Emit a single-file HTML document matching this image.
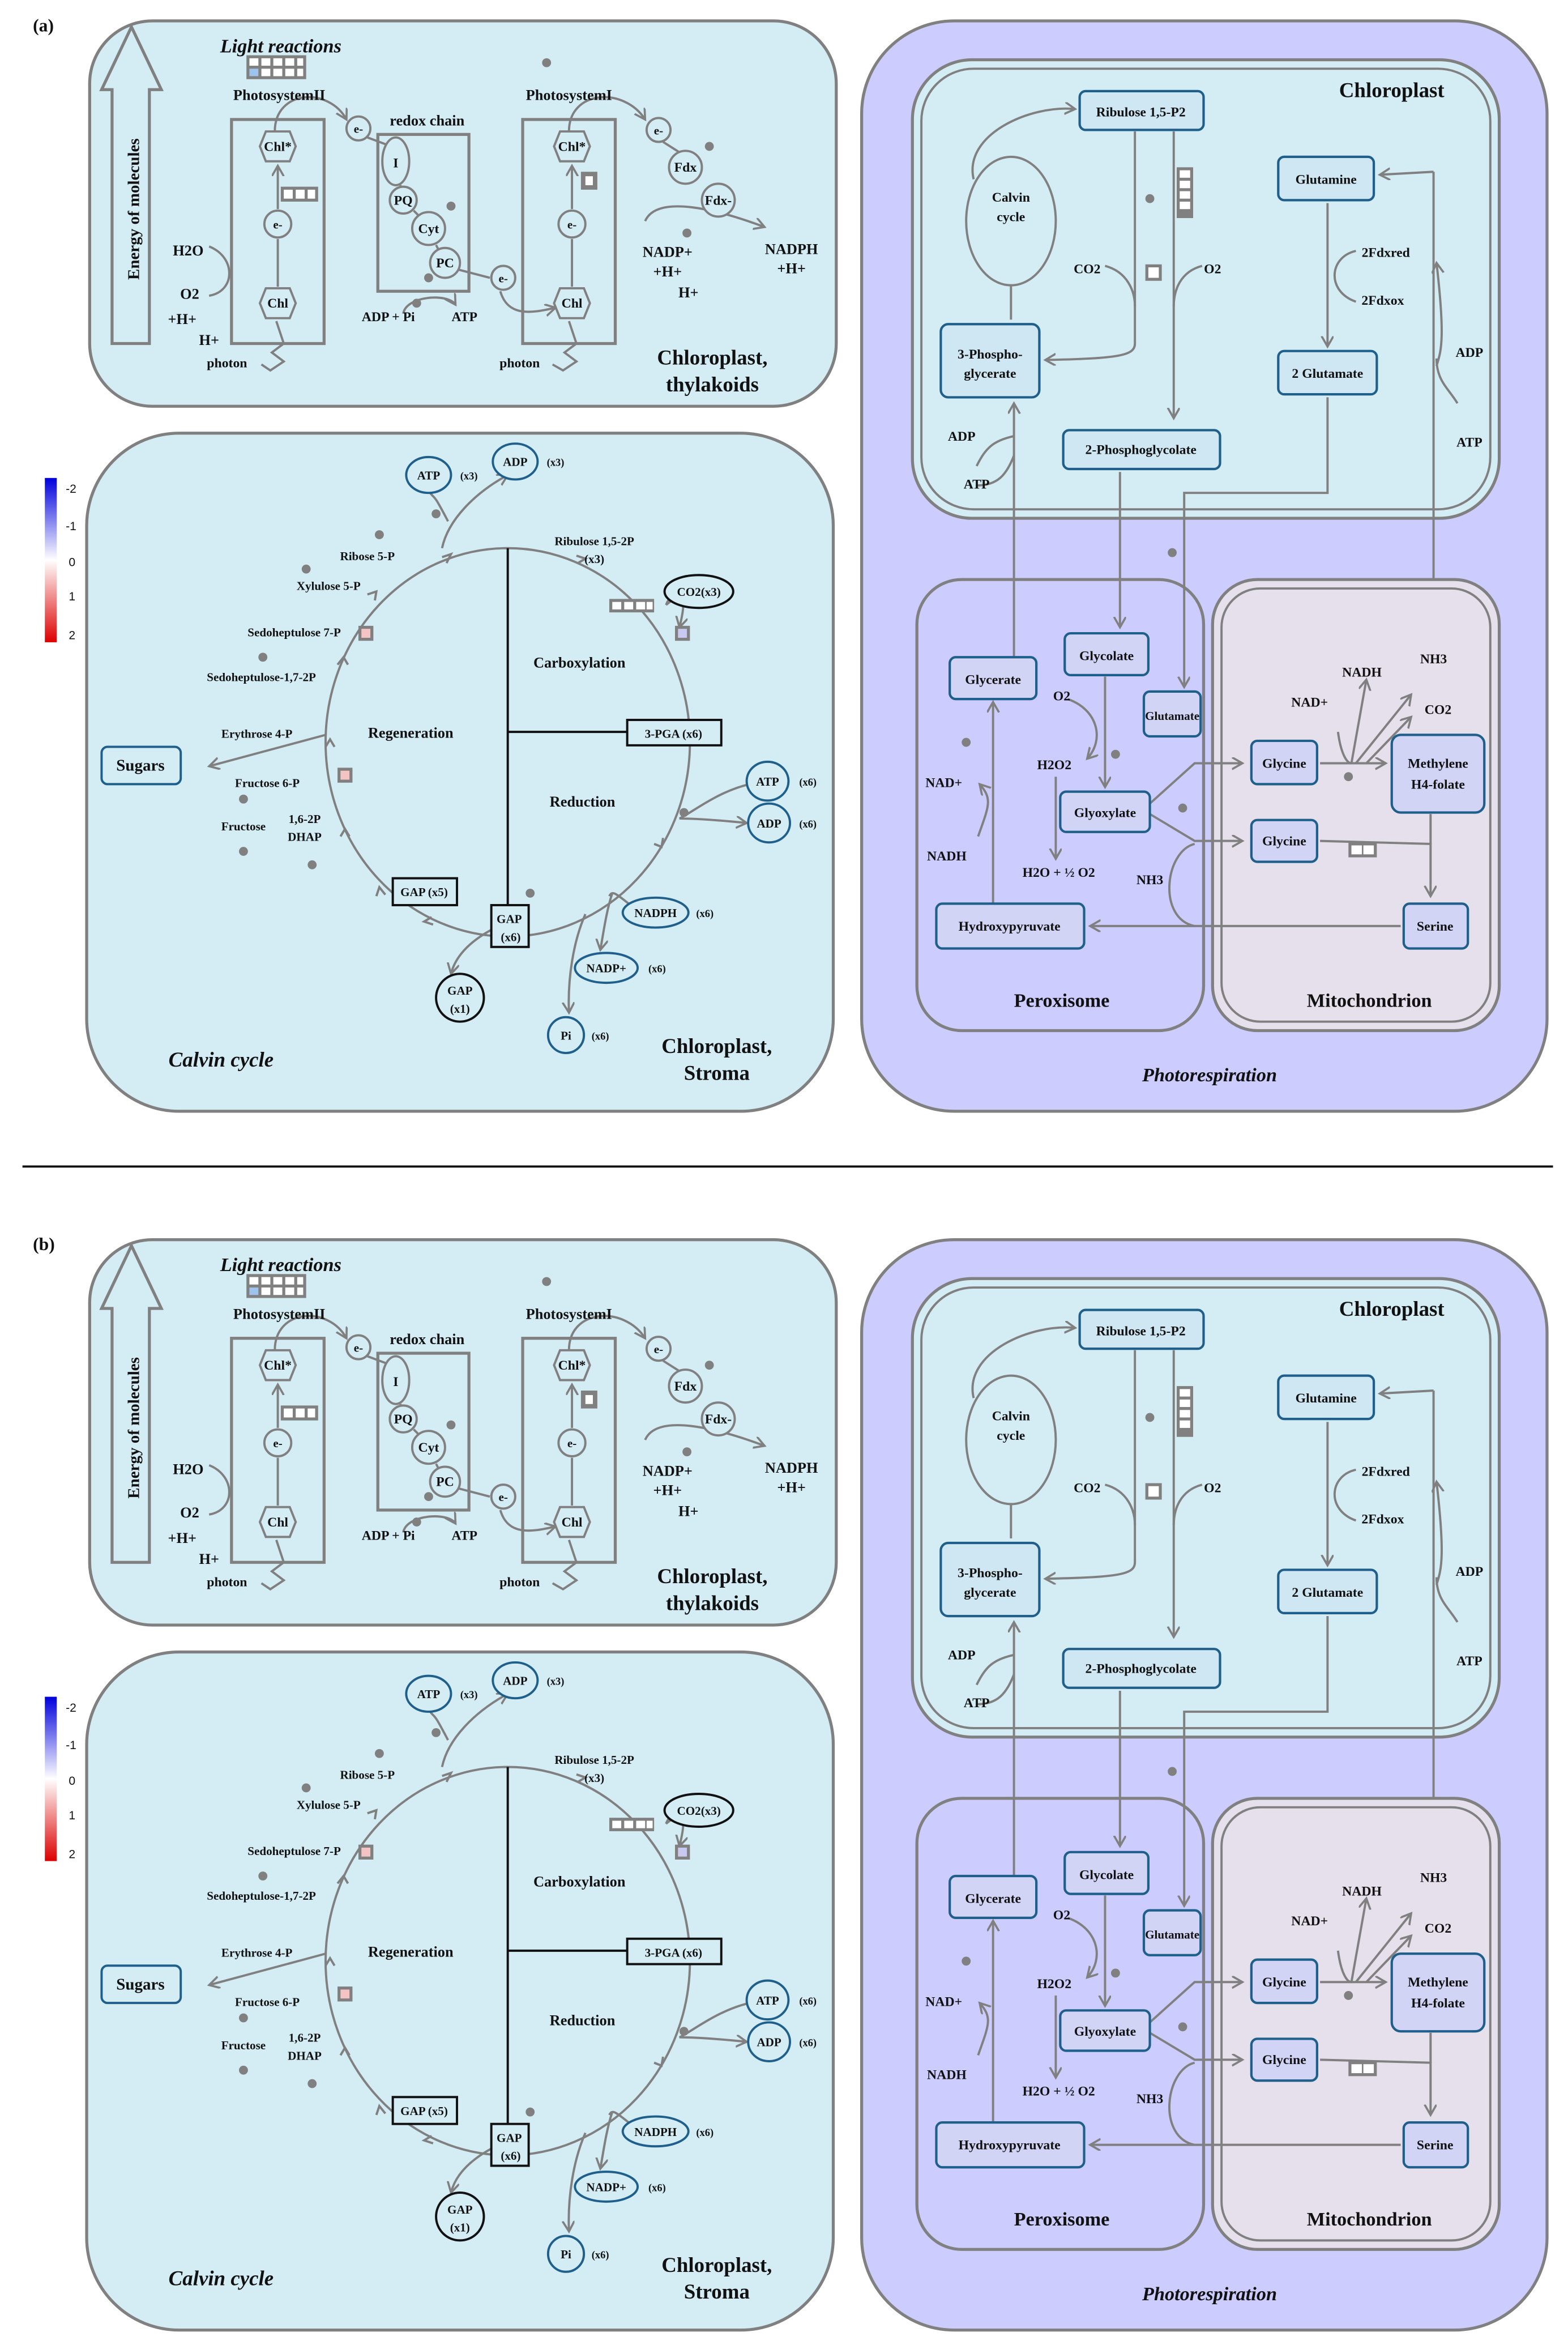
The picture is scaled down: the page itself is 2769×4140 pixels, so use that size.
<!DOCTYPE html>
<html><head><meta charset="utf-8"><style>
html,body{margin:0;padding:0;background:#fff}
svg{display:block}
text{font-family:"Liberation Serif",serif;font-weight:bold;fill:#111}
</style></head><body>
<svg xmlns="http://www.w3.org/2000/svg" xmlns:xlink="http://www.w3.org/1999/xlink" width="2769" height="4140" viewBox="0 0 1050 1570">
<defs>
<marker id="ar" markerWidth="10" markerHeight="10" refX="7" refY="4" orient="auto" markerUnits="userSpaceOnUse">
<path d="M0,0 L7,4 L0,8" fill="none" stroke="#808080" stroke-width="1.4"/>
</marker>
<linearGradient id="cb" x1="0" y1="0" x2="0" y2="1"><stop offset="0" stop-color="#0000dd"/><stop offset="0.5" stop-color="#fff"/><stop offset="1" stop-color="#dd0000"/></linearGradient>
<g id="P">
<rect x="60" y="14" width="500" height="258" rx="42" fill="#d4ecf4" stroke="#808080" stroke-width="2"/>
<rect x="58" y="290" width="500" height="454" rx="62" fill="#d4ecf4" stroke="#808080" stroke-width="2"/>
<rect x="577" y="14" width="459" height="730" rx="62" fill="#ccccff" stroke="#808080" stroke-width="2"/>
<rect x="611" y="40" width="393" height="307" rx="40" fill="#d4ecf4" stroke="#808080" stroke-width="2"/>
<rect x="617" y="46" width="381" height="295" rx="35" fill="none" stroke="#808080" stroke-width="1.5"/>
<rect x="614" y="388" width="192" height="302" rx="30" fill="#ccccff" stroke="#808080" stroke-width="2"/>
<rect x="812" y="388" width="192" height="302" rx="30" fill="#e6e0ec" stroke="#808080" stroke-width="2"/>
<rect x="818" y="394" width="180" height="290" rx="26" fill="none" stroke="#808080" stroke-width="1.5"/>

<g fill="none" stroke="#808080" stroke-width="1.5">
<path d="M75,230 L75,60 L68,60 L88,18 L108,60 L100,60 L100,230 Z" stroke-width="2"/>
<rect x="155" y="80" width="62" height="150" stroke-width="2"/>
<rect x="253" y="90" width="61" height="105" stroke-width="2"/>
<rect x="350" y="80" width="62" height="150" stroke-width="2"/>
<line x1="186" y1="192" x2="186" y2="160"/><line x1="186" y1="140" x2="186" y2="111" marker-end="url(#ar)"/>
<line x1="383" y1="192" x2="383" y2="160"/><line x1="383" y1="140" x2="383" y2="111" marker-end="url(#ar)"/>
<path d="M184,88 C184,60 220,58 232,80" marker-end="url(#ar)"/>
<path d="M381,88 C381,60 418,58 432,80" marker-end="url(#ar)"/>
<line x1="246" y1="92" x2="262" y2="98"/><line x1="268" y1="124" x2="269" y2="126"/>
<line x1="277" y1="141" x2="281" y2="145"/><line x1="292" y1="164" x2="294" y2="168"/>
<line x1="305" y1="180" x2="328" y2="186"/>
<path d="M335,195 C340,212 355,210 372,206" marker-end="url(#ar)"/>
<line x1="444" y1="95" x2="455" y2="102"/>
<path d="M432,148 C440,130 480,140 512,152" marker-end="url(#ar)"/>
<path d="M140,165 C158,172 158,195 140,198"/>
<path d="M185,215 L190,230 L182,236 L190,242 L181,248 L175,244"/>
<path d="M381,215 L386,230 L378,236 L386,242 L377,248 L370,244"/>
<path d="M270,210 C272,198 300,196 305,204" marker-end="url(#ar)"/>
<!-- Calvin cycle -->
<ellipse cx="340" cy="497" rx="122" ry="130"/>
<path d="M246,398 l6,-2 l-1,6 M226,445 l4,-5 l3,5 M218,500 l3,-5 l3,5 M228,560 l3,-5 l3,5 M252,600 l2,-6 l4,5 M296,373 l6,-2 l-3,6 M386,372 l6,2 l-5,3 M444,561 l-1,6 l-5,-2 M290,619 l-6,-2 l5,-3"/>
<path d="M300,349 C290,330 292,335 288,330"/>
<path d="M296,367 C300,348 318,330 340,318" marker-end="url(#ar)"/>
<path d="M218,492 L140,513" marker-end="url(#ar)"/>
<path d="M446,405 C458,395 460,400 455,420" marker-end="url(#ar)"/>
<path d="M446,405 C450,395 460,390 468,386"/>
<path d="M502,525 C480,530 462,545 455,548 C470,548 490,550 500,551" marker-end="url(#ar)"/>
<path d="M330,622 C315,630 305,640 302,652" marker-end="url(#ar)"/>
<path d="M421,605 C412,598 410,596 408,600"/>
<path d="M410,598 C406,610 404,625 402,636" marker-end="url(#ar)"/>
<path d="M392,612 C384,630 380,655 381,678" marker-end="url(#ar)"/>
<!-- photorespiration -->
<ellipse cx="677" cy="148" rx="30" ry="43"/>
<path d="M652,120 C645,90 690,70 720,73" marker-end="url(#ar)"/>
<line x1="677" y1="191" x2="677" y2="214"/>
<path d="M760,88 L760,230 C760,238 750,240 700,241" marker-end="url(#ar)"/>
<line x1="786" y1="88" x2="786" y2="280" marker-end="url(#ar)"/>
<path d="M740,178 C755,182 760,195 760,205"/>
<path d="M805,178 C790,182 786,195 786,205"/>
<line x1="679" y1="440" x2="679" y2="270" marker-end="url(#ar)"/>
<path d="M654,312 C660,300 665,295 679,292"/>
<path d="M654,325 C668,325 674,318 679,305"/>
<line x1="750" y1="316" x2="750" y2="420" marker-end="url(#ar)"/>
<line x1="889" y1="136" x2="889" y2="232" marker-end="url(#ar)"/>
<path d="M908,168 C890,172 888,195 908,202"/>
<path d="M889,266 L889,330 L793,330 L793,460" marker-end="url(#ar)"/>
<path d="M960,388 L960,115" />
<path d="M960,115 L924,117" marker-end="url(#ar)"/>
<path d="M976,270 C970,260 962,255 962,240" />
<path d="M962,245 C965,235 968,228 962,176" marker-end="url(#ar)"/>
<line x1="740" y1="453" x2="740" y2="527" marker-end="url(#ar)"/>
<path d="M715,468 C735,475 740,495 728,508" marker-end="url(#ar)"/>
<line x1="707" y1="520" x2="707" y2="575" marker-end="url(#ar)"/>
<line x1="665" y1="605" x2="665" y2="470" marker-end="url(#ar)"/>
<path d="M655,560 C662,540 665,535 656,525" marker-end="url(#ar)"/>
<path d="M770,538 L800,511 L832,511" marker-end="url(#ar)"/>
<path d="M770,545 L800,563 L832,563" marker-end="url(#ar)"/>
<path d="M884,511 L928,511" marker-end="url(#ar)"/>
<path d="M905,511 L915,455" marker-end="url(#ar)"/>
<path d="M908,511 L945,465" marker-end="url(#ar)"/>
<path d="M915,511 L945,480" marker-end="url(#ar)"/>
<path d="M896,490 C898,505 902,511 905,511"/>
<path d="M884,563 L958,565 L958,600" marker-end="url(#ar)"/>
<path d="M958,545 L958,565"/>
<path d="M938,620 L730,620" marker-end="url(#ar)"/>
<path d="M800,620 C775,615 780,570 800,565"/>
</g>

<g fill="#d4ecf4" stroke="#808080" stroke-width="1.5">
<polygon points="174,98 178,88 194,88 198,98 194,108 178,108"/>
<polygon points="174,203 178,193 194,193 198,203 194,213 178,213"/>
<polygon points="371,98 375,88 391,88 395,98 391,108 375,108"/>
<polygon points="371,203 375,193 391,193 395,203 391,213 375,213"/>
<circle cx="186" cy="150" r="9"/><circle cx="383" cy="150" r="9"/>
<circle cx="240" cy="86" r="8"/><circle cx="441" cy="87" r="8"/><circle cx="337" cy="186" r="8"/>
<ellipse cx="265" cy="108" rx="9" ry="16"/>
<circle cx="270" cy="134" r="9"/><circle cx="287" cy="153" r="11"/><circle cx="298" cy="176" r="10"/>
<circle cx="459" cy="112" r="11"/><circle cx="481" cy="134" r="11"/>
</g>
<g fill="#808080">
<rect x="165" y="37" width="40" height="16"/>
<rect x="188" y="125" width="25" height="10"/>
<rect x="389" y="115" width="11" height="12"/>
<circle cx="366" cy="42" r="3"/><circle cx="475" cy="98" r="3"/><circle cx="302" cy="138" r="3"/>
<circle cx="287" cy="186" r="3"/><circle cx="279" cy="203" r="3"/><circle cx="460" cy="156" r="3"/>
</g>
<g fill="#fff">
<rect x="167" y="39" width="6" height="5"/><rect x="175" y="39" width="6" height="5"/><rect x="183" y="39" width="6" height="5"/><rect x="191" y="39" width="6" height="5"/><rect x="199" y="39" width="4" height="5"/>
<rect x="167" y="46" width="6" height="5" fill="#9ec4ee"/><rect x="175" y="46" width="6" height="5"/><rect x="183" y="46" width="6" height="5"/><rect x="191" y="46" width="6" height="5"/><rect x="199" y="46" width="4" height="5"/>
<rect x="190" y="127" width="6" height="6"/><rect x="198" y="127" width="6" height="6"/><rect x="206" y="127" width="5" height="6"/>
<rect x="392" y="118" width="5" height="6"/>
</g>
<g font-size="9" text-anchor="middle">
<text x="188" y="35" font-size="13" font-style="italic">Light reactions</text>
<text x="187" y="67" font-size="10">PhotosystemII</text>
<text x="381" y="67" font-size="10">PhotosystemI</text>
<text x="286" y="84" font-size="10">redox chain</text>
<text x="186" y="101">Chl*</text><text x="186" y="206">Chl</text>
<text x="383" y="101">Chl*</text><text x="383" y="206">Chl</text>
<text x="186" y="153" font-size="8">e-</text><text x="383" y="153" font-size="8">e-</text>
<text x="240" y="89" font-size="8">e-</text><text x="441" y="90" font-size="8">e-</text><text x="337" y="189" font-size="8">e-</text>
<text x="265" y="112">I</text><text x="270" y="137">PQ</text><text x="287" y="156">Cyt</text><text x="298" y="179">PC</text>
<text x="459" y="115">Fdx</text><text x="481" y="137">Fdx-</text>
<text x="447" y="172" font-size="10">NADP+</text><text x="447" y="185" font-size="10">+H+</text><text x="461" y="199" font-size="10">H+</text>
<text x="530" y="170" font-size="10">NADPH</text><text x="530" y="183" font-size="10">+H+</text>
<text x="126" y="171" font-size="10">H2O</text><text x="127" y="200" font-size="10">O2</text>
<text x="122" y="217" font-size="10">+H+</text><text x="140" y="231" font-size="10">H+</text>
<text x="152" y="246">photon</text><text x="348" y="246">photon</text>
<text x="260" y="215">ADP + Pi</text><text x="311" y="215">ATP</text>
<text x="477" y="244" font-size="14">Chloroplast,</text><text x="477" y="262" font-size="14">thylakoids</text>
<text x="0" y="0" font-size="11" font-weight="normal" font-family="Liberation Mono, monospace" transform="translate(93,140) rotate(-90)">Energy of molecules</text>
</g>

<rect x="30" y="320" width="8" height="110" fill="url(#cb)"/>
<g font-size="8">
<text x="44" y="330" style="font-family:'Liberation Sans';font-weight:normal">-2</text><text x="44" y="355" style="font-family:'Liberation Sans';font-weight:normal">-1</text><text x="46" y="379" style="font-family:'Liberation Sans';font-weight:normal">0</text><text x="46" y="402" style="font-family:'Liberation Sans';font-weight:normal">1</text><text x="46" y="428" style="font-family:'Liberation Sans';font-weight:normal">2</text>
</g>

<g stroke="#111" stroke-width="1.5">
<line x1="340" y1="367" x2="340" y2="606"/>
<line x1="340" y1="490" x2="420" y2="490"/>
</g>
<g fill="#d4ecf4" stroke="#1f5f8b" stroke-width="1.5">
<ellipse cx="287" cy="318" rx="15" ry="12"/><ellipse cx="345" cy="309" rx="15" ry="12"/>
<ellipse cx="514" cy="523" rx="14" ry="13"/><ellipse cx="515" cy="551" rx="14" ry="13"/>
<ellipse cx="439" cy="611" rx="22" ry="10"/><ellipse cx="406" cy="648" rx="21" ry="10"/>
<circle cx="379" cy="693" r="12"/>
<rect x="68" y="500" width="53" height="25" rx="4"/>
</g>
<g fill="#d4ecf4" stroke="#111" stroke-width="1.5">
<ellipse cx="468" cy="396" rx="23" ry="11"/>
<circle cx="308" cy="668" r="16"/>
<rect x="420" y="482" width="63" height="17"/>
<rect x="263" y="588" width="43" height="18"/>
<rect x="329" y="606" width="25" height="28"/>
</g>
<g fill="#808080">
<rect x="408" y="401" width="30" height="9"/>
<rect x="452" y="419" width="10" height="10"/>
<rect x="240" y="419" width="10" height="10"/>
<rect x="226" y="514" width="10" height="10"/>
<circle cx="254" cy="358" r="3"/><circle cx="205" cy="381" r="3"/><circle cx="176" cy="440" r="3"/>
<circle cx="292" cy="344" r="3"/><circle cx="456" cy="423" r="3"/><circle cx="458" cy="544" r="3"/>
<circle cx="163" cy="570" r="3"/><circle cx="163" cy="535" r="3"/><circle cx="209" cy="579" r="3"/><circle cx="355" cy="598" r="3"/>
</g>
<g fill="#fff">
<rect x="410" y="403" width="6" height="5"/><rect x="418" y="403" width="6" height="5"/><rect x="426" y="403" width="6" height="5"/><rect x="433" y="403" width="4" height="5"/>
<rect x="454" y="421" width="6" height="6" fill="#c8c8f0"/>
<rect x="242" y="421" width="6" height="6" fill="#f4c4c4"/>
<rect x="228" y="516" width="6" height="6" fill="#f4c4c4"/>
</g>
<g font-size="8" text-anchor="middle">
<text x="287" y="321">ATP</text><text x="314" y="321" font-size="7">(x3)</text>
<text x="345" y="312">ADP</text><text x="372" y="312" font-size="7">(x3)</text>
<text x="398" y="365">Ribulose 1,5-2P</text><text x="398" y="377">(x3)</text>
<text x="468" y="399">CO2(x3)</text>
<text x="246" y="375">Ribose 5-P</text><text x="220" y="395">Xylulose 5-P</text>
<text x="197" y="426">Sedoheptulose 7-P</text><text x="175" y="456">Sedoheptulose-1,7-2P</text>
<text x="172" y="494">Erythrose 4-P</text><text x="179" y="527">Fructose 6-P</text>
<text x="163" y="556">Fructose</text><text x="204" y="551">1,6-2P</text><text x="204" y="563">DHAP</text>
<text x="94" y="516" font-size="11">Sugars</text>
<text x="388" y="447" font-size="10">Carboxylation</text>
<text x="275" y="494" font-size="10">Regeneration</text>
<text x="390" y="540" font-size="10">Reduction</text>
<text x="451" y="494">3-PGA (x6)</text>
<text x="514" y="526">ATP</text><text x="541" y="526" font-size="7">(x6)</text>
<text x="515" y="554">ADP</text><text x="541" y="554" font-size="7">(x6)</text>
<text x="284" y="600">GAP (x5)</text>
<text x="341" y="618">GAP</text><text x="342" y="630">(x6)</text>
<text x="308" y="666">GAP</text><text x="308" y="678">(x1)</text>
<text x="439" y="614">NADPH</text><text x="472" y="614" font-size="7">(x6)</text>
<text x="406" y="651">NADP+</text><text x="440" y="651" font-size="7">(x6)</text>
<text x="379" y="696">Pi</text><text x="402" y="696" font-size="7">(x6)</text>
<text x="148" y="714" font-size="14" font-style="italic">Calvin cycle</text>
<text x="480" y="705" font-size="14">Chloroplast,</text><text x="480" y="723" font-size="14">Stroma</text>
</g>

<g fill="#cfe6f3" stroke="#1f5f8b" stroke-width="1.6">
<rect x="723" y="61" width="83" height="26" rx="4"/>
<rect x="630" y="217" width="66" height="49" rx="5"/>
<rect x="712" y="288" width="105" height="26" rx="4"/>
<rect x="856" y="105" width="64" height="29" rx="4"/>
<rect x="856" y="235" width="66" height="29" rx="4"/>
</g>
<g fill="#d2d4f6" stroke="#1f5f8b" stroke-width="1.6">
<rect x="636" y="440" width="58" height="28" rx="4"/>
<rect x="713" y="424" width="56" height="28" rx="4"/>
<rect x="766" y="463" width="38" height="30" rx="4"/>
<rect x="710" y="530" width="60" height="27" rx="4"/>
<rect x="627" y="605" width="99" height="30" rx="4"/>
<rect x="838" y="496" width="44" height="29" rx="4"/>
<rect x="838" y="549" width="44" height="28" rx="4"/>
<rect x="932" y="492" width="62" height="52" rx="6"/>
<rect x="940" y="605" width="43" height="30" rx="4"/>
</g>
<g fill="#808080">
<rect x="788" y="112" width="11" height="34"/>
<rect x="767" y="177" width="11" height="11"/>
<rect x="903" y="564" width="19" height="10"/>
<circle cx="770" cy="133" r="3"/><circle cx="785" cy="370" r="3"/><circle cx="647" cy="497" r="3"/>
<circle cx="792" cy="541" r="3"/><circle cx="747" cy="505" r="3"/><circle cx="903" cy="520" r="3"/>
</g>
<g fill="#fff">
<rect x="790" y="114" width="7" height="5"/><rect x="790" y="121" width="7" height="5"/><rect x="790" y="128" width="7" height="5"/><rect x="790" y="135" width="7" height="5"/>
<rect x="769" y="179" width="7" height="7"/>
<rect x="905" y="566" width="7" height="6"/><rect x="913" y="566" width="7" height="6"/>
</g>
<g font-size="9" text-anchor="middle">
<text x="932" y="65" font-size="14">Chloroplast</text>
<text x="764" y="78">Ribulose 1,5-P2</text>
<text x="677" y="135">Calvin</text><text x="677" y="148">cycle</text>
<text x="663" y="240">3-Phospho-</text><text x="663" y="253">glycerate</text>
<text x="728" y="183">CO2</text><text x="812" y="183">O2</text>
<text x="764" y="304">2-Phosphoglycolate</text>
<text x="888" y="123">Glutamine</text>
<text x="928" y="172">2Fdxred</text><text x="926" y="204">2Fdxox</text>
<text x="889" y="253">2 Glutamate</text>
<text x="984" y="239">ADP</text><text x="984" y="299">ATP</text>
<text x="644" y="295">ADP</text><text x="654" y="327">ATP</text>
<text x="665" y="458">Glycerate</text><text x="741" y="442">Glycolate</text>
<text x="785" y="482" font-size="8">Glutamate</text><text x="740" y="547">Glyoxylate</text>
<text x="676" y="623">Hydroxypyruvate</text>
<text x="711" y="469">O2</text><text x="706" y="515">H2O2</text>
<text x="632" y="527">NAD+</text><text x="634" y="576">NADH</text>
<text x="709" y="587">H2O + ½ O2</text><text x="770" y="592">NH3</text>
<text x="860" y="514">Glycine</text><text x="860" y="566">Glycine</text>
<text x="963" y="514">Methylene</text><text x="963" y="528">H4-folate</text>
<text x="961" y="623">Serine</text>
<text x="912" y="453">NADH</text><text x="877" y="473">NAD+</text>
<text x="960" y="444">NH3</text><text x="963" y="478">CO2</text>
<text x="711" y="674" font-size="13">Peroxisome</text>
<text x="917" y="674" font-size="13">Mitochondrion</text>
<text x="810" y="724" font-size="13" font-style="italic">Photorespiration</text>
</g>
</g>
</defs>
<rect width="1050" height="1570" fill="#fff"/>
<use xlink:href="#P"/>
<use xlink:href="#P" transform="translate(0,816)"/>
<text x="22" y="21" font-size="12">(a)</text>
<text x="22" y="837" font-size="12">(b)</text>
<line x1="15" y1="781" x2="1040" y2="781" stroke="#111" stroke-width="1.5"/>
</svg>
</body></html>
